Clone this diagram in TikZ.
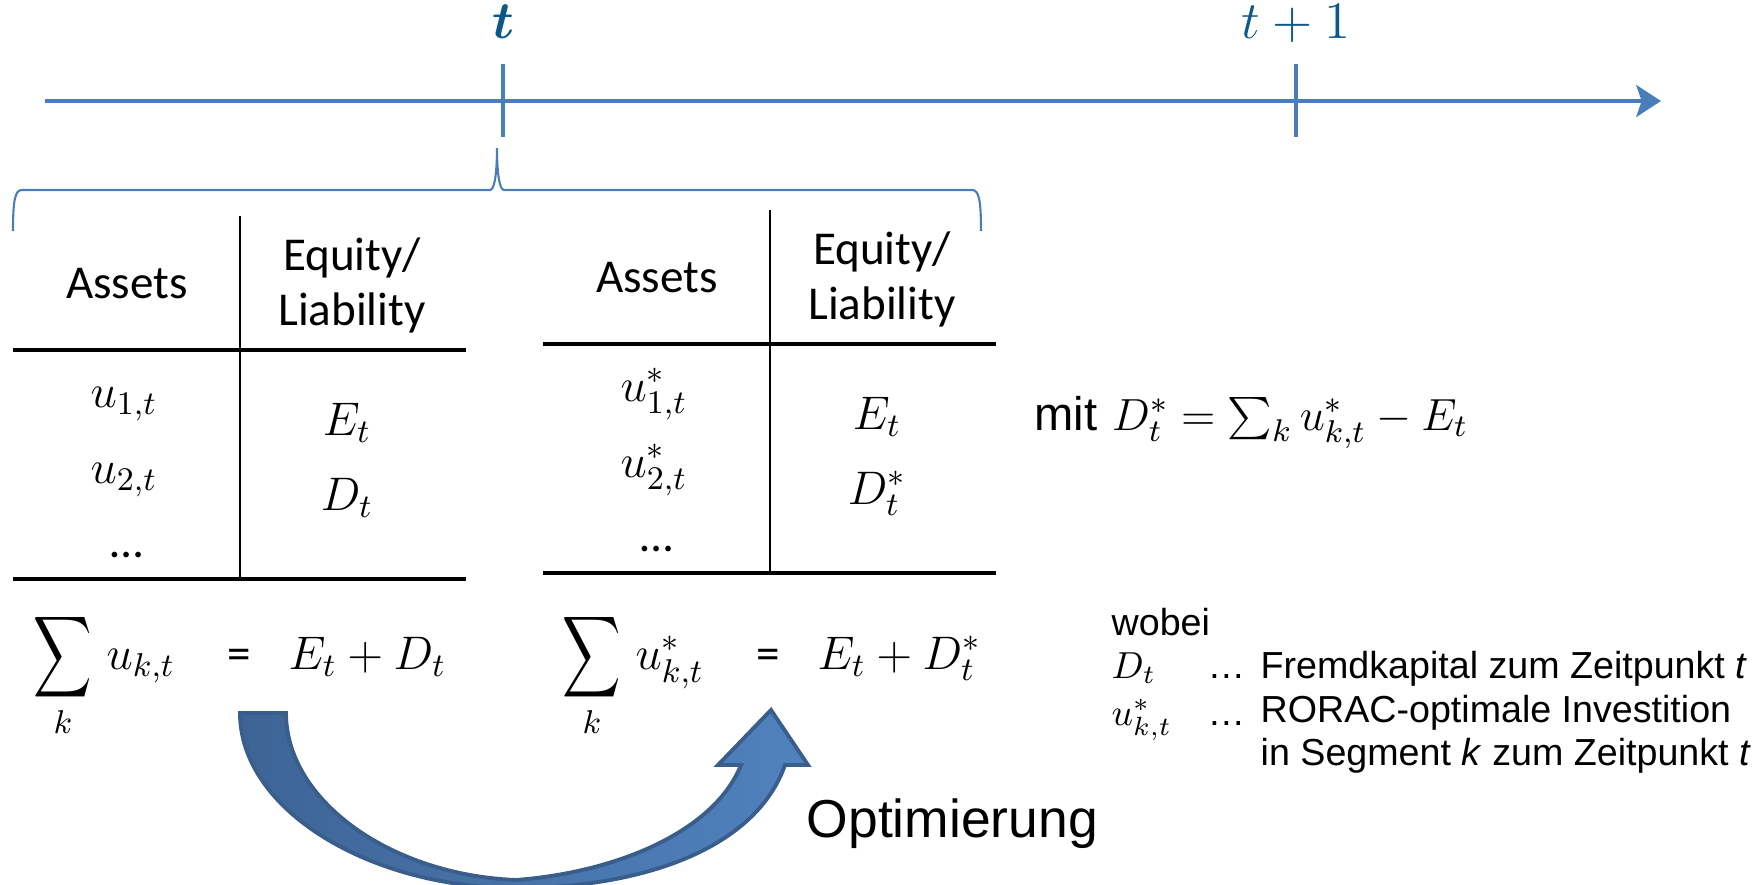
\RequirePackage{fix-cm}
\documentclass[tikz,border=0pt]{standalone}
\usepackage{exscale}
\usepackage{bm}
\usepackage{graphicx}
\usepackage[no-math]{fontspec}
\usetikzlibrary{arrows.meta}
\newfontfamily\calibri{Carlito}
\newfontfamily\arial{Liberation Sans}
\definecolor{axisblue}{RGB}{74,126,187}
\definecolor{labelblue}{RGB}{12,88,138}
\definecolor{arrowdark}{RGB}{62,100,150}
\definecolor{arrowlight}{RGB}{80,130,190}
\definecolor{arrowline}{RGB}{58,94,140}
\newcommand{\sumk}{\mathop{\vcenter{\hbox{\scalebox{0.8}[1.12]{$\displaystyle\sum$}}}}\limits_{k}}
\tikzset{
	axis/.style={axisblue, line width=1.4pt},
	rule/.style={black, line width=0.9pt},
	vrule/.style={black, line width=0.6pt},
	head/.style={font=\calibri\fontsize{13.4}{15.6}\selectfont, align=center, anchor=base, inner sep=0pt},
	entry/.style={font=\fontsize{13.4}{16}\selectfont, anchor=base, inner sep=0pt},
	note/.style={font=\arial\fontsize{10.7}{12}\selectfont, anchor=base west, inner sep=0pt},
}
\begin{document}
\begin{tikzpicture}[x=0.01cm, y=-0.01cm]
			\useasboundingbox (0,0) rectangle (1756,884);

			% Ось времени
			\coordinate (tl0) at (45,101);
			\coordinate (tl1) at (1661,101);
			\draw[axis, -{Stealth[length=7pt, width=9pt, inset=1.5pt]}] (tl0) -- (tl1);
			\foreach \x in {503,1296}
					\draw[axis] (\x,64) -- (\x,137);
			\node[entry, text=labelblue, font=\fontsize{15}{18}\selectfont] (tnow) at (503,38) {$\bm{t}$};
			\node[entry, text=labelblue, font=\fontsize{15}{18}\selectfont] (tnext) at (1296,38) {$t+1$};

			% Скобка
			\draw[axisblue, line width=0.6pt] (13,231) .. controls (13,200) and (15,190) .. (22,190) -- (490,190)
				.. controls (495,190) and (497,170) .. (497,148) .. controls (497,170) and (499,190) .. (504,190)
				-- (972,190) .. controls (979,190) and (981,200) .. (981,231);

			% Баланс до оптимизации
			\draw[vrule] (240,216) -- (240,580);
			\draw[rule] (13,350) -- (466,350);
			\draw[rule] (13,579) -- (466,579);
			\node[head] (assetsA) at (127,298) {Assets};
			\node[head] (equityA) at (352,325) {Equity/\\Liability};
			\node[entry] (u1A) at (124,407) {$u_{1,t}$};
			\node[entry] (u2A) at (124,483) {$u_{2,t}$};
			\node[head] (dotsA) at (127,557) {…};
			\node[entry] (eqA) at (347,435) {$E_t$};
			\node[entry] (debtA) at (347,510) {$D_t$};

			% Баланс после оптимизации
			\begin{scope}[shift={(530,-6)}]
				\draw[vrule] (240,216) -- (240,580);
				\draw[rule] (13,350) -- (466,350);
				\draw[rule] (13,579) -- (466,579);
				\node[head] (assetsB) at (127,298) {Assets};
				\node[head] (equityB) at (352,325) {Equity/\\Liability};
				\node[entry] (u1B) at (124,407) {$u^*_{1,t}$};
				\node[entry] (u2B) at (124,483) {$u^*_{2,t}$};
				\node[head] (dotsB) at (127,557) {…};
				\node[entry] (eqB) at (347,435) {$E_t$};
				\node[entry] (debtB) at (347,510) {$D^*_t$};
			\end{scope}

			% Суммы
			\node[entry] (sigA) at (63,669) {$\sumk$};
			\node[entry, anchor=base west] (sumA) at (106,669) {$u_{k,t}$};
			\node[head] (isA) at (239,669) {=};
			\node[entry, anchor=base west] (rhsA) at (288,669) {$E_t + D_t$};
			\node[entry] (sigB) at (592,669) {$\sumk$};
			\node[entry, anchor=base west] (sumB) at (635,669) {$u^*_{k,t}$};
			\node[head] (isB) at (768,669) {=};
			\node[entry, anchor=base west] (rhsB) at (817,669) {$E_t + D^*_t$};

			\node[entry, anchor=base west, font=\fontsize{12.8}{15}\selectfont] (mit) at (1034,430) {{\arial\fontsize{13.4}{15}\selectfont mit} $D^*_t = \sum_k u^*_{k,t} - E_t$};

			% Легенда
			\node[note] (wobei) at (1111,635) {wobei};
			\node[note] (symD) at (1111,678) {$D_t$};
			\node[note] (dotsD) at (1207,678) {…};
			\node[note] (textD) at (1260,678) {Fremdkapital zum Zeitpunkt \textit{t}};
			\node[note] (symU) at (1111,725) {$u^*_{k,t}$};
			\node[note] (dotsU) at (1207,725) {…};
			\node[note, align=left] (textU) at (1260,765) {RORAC-optimale Investition\\in Segment \textit{k} zum Zeitpunkt \textit{t}};

			% Стрелка
			\path[draw=arrowline, line width=1.1pt, left color=arrowdark, right color=arrowlight]
				(240,713) -- (286,713) .. controls (286,800) and (390,875) .. (516,880)
				.. controls (620,872) and (715,830) .. (741,765)
				-- (718,765) -- (771,710) -- (808,765) -- (785,765)
				.. controls (755,850) and (640,888) .. (516,888)
				.. controls (370,888) and (240,810) .. cycle;
			\node[anchor=base west, inner sep=0pt, font=\arial\fontsize{15.2}{18}\selectfont] (optim) at (806,837) {Optimierung};
		\end{tikzpicture}
\end{document}
